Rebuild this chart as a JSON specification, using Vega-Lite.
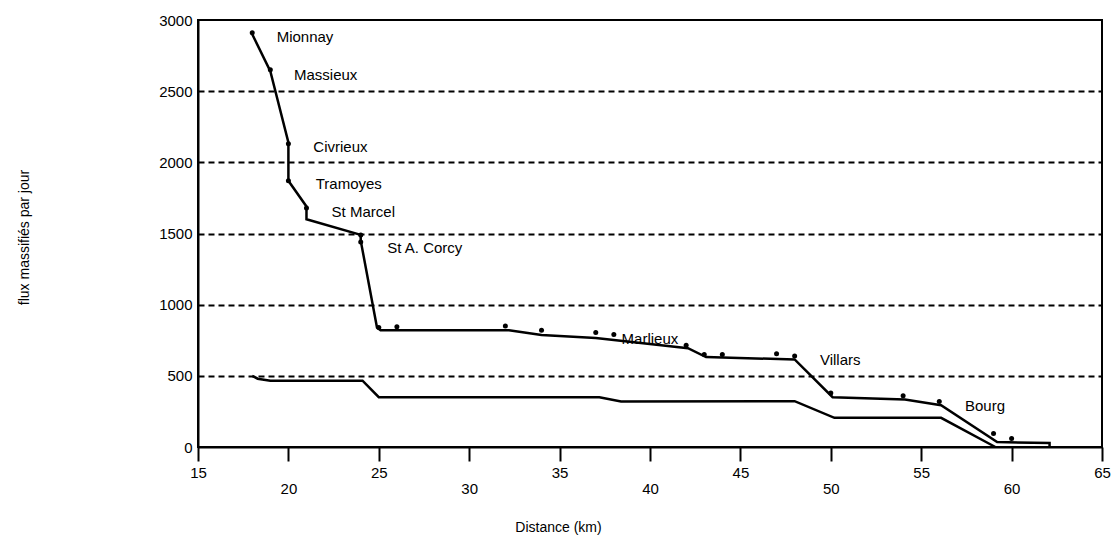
{
  "$schema": "https://vega.github.io/schema/vega-lite/v6.json",
  "autosize": {"type": "none"},
  "width": 904,
  "height": 427,
  "padding": {"left": 198, "top": 20, "right": 17, "bottom": 90},
  "background": "white",
  "config": {
    "view": {"stroke": "black", "strokeWidth": 2},
    "font": "Liberation Sans",
    "axis": {"labelColor": "black", "titleColor": "black", "labelFont": "Liberation Sans", "titleFont": "Liberation Sans"}
  },
  "datasets": {
    "lines": [
      {"series": "total", "seq": 1, "km": 18, "flux": 2900},
      {"series": "total", "seq": 2, "km": 19, "flux": 2640},
      {"series": "total", "seq": 3, "km": 20, "flux": 2140},
      {"series": "total", "seq": 4, "km": 20, "flux": 1870},
      {"series": "total", "seq": 5, "km": 21, "flux": 1690},
      {"series": "total", "seq": 6, "km": 21, "flux": 1600},
      {"series": "total", "seq": 7, "km": 24, "flux": 1490},
      {"series": "total", "seq": 8, "km": 24, "flux": 1450},
      {"series": "total", "seq": 9, "km": 24.9, "flux": 840},
      {"series": "total", "seq": 10, "km": 25.1, "flux": 820},
      {"series": "total", "seq": 11, "km": 32.2, "flux": 820},
      {"series": "total", "seq": 12, "km": 34, "flux": 787},
      {"series": "total", "seq": 13, "km": 37, "flux": 765},
      {"series": "total", "seq": 14, "km": 42.1, "flux": 694},
      {"series": "total", "seq": 15, "km": 43.1, "flux": 632},
      {"series": "total", "seq": 16, "km": 48, "flux": 615},
      {"series": "total", "seq": 17, "km": 50.1, "flux": 350},
      {"series": "total", "seq": 18, "km": 54.1, "flux": 333},
      {"series": "total", "seq": 19, "km": 56.1, "flux": 293},
      {"series": "total", "seq": 20, "km": 59.2, "flux": 35},
      {"series": "total", "seq": 21, "km": 62.1, "flux": 28},
      {"series": "total", "seq": 22, "km": 62.1, "flux": 0},
      {"series": "massifie", "seq": 1, "km": 18, "flux": 500},
      {"series": "massifie", "seq": 2, "km": 18.3, "flux": 480},
      {"series": "massifie", "seq": 3, "km": 19, "flux": 466},
      {"series": "massifie", "seq": 4, "km": 24.1, "flux": 466},
      {"series": "massifie", "seq": 5, "km": 25, "flux": 350},
      {"series": "massifie", "seq": 6, "km": 37.2, "flux": 350},
      {"series": "massifie", "seq": 7, "km": 38.4, "flux": 320},
      {"series": "massifie", "seq": 8, "km": 48, "flux": 322},
      {"series": "massifie", "seq": 9, "km": 50.2, "flux": 205},
      {"series": "massifie", "seq": 10, "km": 56.1, "flux": 205},
      {"series": "massifie", "seq": 11, "km": 59.1, "flux": 0}
    ],
    "marks": [
      {"km": 18, "flux": 2910},
      {"km": 19, "flux": 2650},
      {"km": 20, "flux": 2130},
      {"km": 20, "flux": 1870},
      {"km": 21, "flux": 1680},
      {"km": 24, "flux": 1490},
      {"km": 24, "flux": 1440},
      {"km": 25, "flux": 840},
      {"km": 26, "flux": 845},
      {"km": 32, "flux": 850},
      {"km": 34, "flux": 820},
      {"km": 37, "flux": 805},
      {"km": 38, "flux": 790},
      {"km": 42, "flux": 715},
      {"km": 43, "flux": 650},
      {"km": 44, "flux": 650},
      {"km": 47, "flux": 655},
      {"km": 48, "flux": 640},
      {"km": 50, "flux": 380},
      {"km": 54, "flux": 360},
      {"km": 56, "flux": 320},
      {"km": 59, "flux": 95},
      {"km": 60, "flux": 60}
    ],
    "towns": [
      {"name": "Mionnay", "km": 19.35, "flux": 2883},
      {"name": "Massieux", "km": 20.31, "flux": 2614},
      {"name": "Civrieux", "km": 21.38, "flux": 2110},
      {"name": "Tramoyes", "km": 21.51, "flux": 1846},
      {"name": "St Marcel", "km": 22.39, "flux": 1653},
      {"name": "St A. Corcy", "km": 25.47, "flux": 1400},
      {"name": "Marlieux", "km": 38.43, "flux": 757},
      {"name": "Villars", "km": 49.4, "flux": 611},
      {"name": "Bourg", "km": 57.42, "flux": 288}
    ]
  },
  "encoding": {
    "x": {
      "field": "km",
      "type": "quantitative",
      "scale": {"domain": [15, 65], "nice": false, "zero": false},
      "axis": {
        "title": "Distance (km)",
        "values": [15, 20, 25, 30, 35, 40, 45, 50, 55, 60, 65],
        "format": "d",
        "grid": false,
        "domainColor": "black",
        "domainWidth": 2,
        "tickColor": "black",
        "tickWidth": 2,
        "tickSize": 14,
        "labelFontSize": 15,
        "labelPadding": {"condition": {"test": "datum.value % 10 == 0", "value": 20}, "value": 4},
        "labelFlush": false,
        "labelOverlap": false,
        "titleFontSize": 14,
        "titleFontWeight": "normal",
        "titleX": 360,
        "titleY": 80,
        "titleAlign": "center",
        "titleBaseline": "middle"
      }
    },
    "y": {
      "field": "flux",
      "type": "quantitative",
      "scale": {"domain": [0, 3000], "nice": false},
      "axis": {
        "title": "flux massifiés par jour",
        "values": [0, 500, 1000, 1500, 2000, 2500, 3000],
        "format": "d",
        "ticks": false,
        "domainColor": "black",
        "domainWidth": 2,
        "labelFontSize": 15,
        "labelPadding": 6,
        "grid": true,
        "gridColor": "black",
        "gridDash": [6, 4],
        "gridWidth": 2,
        "gridOpacity": {"condition": {"test": "datum.value == 0 || datum.value == 3000", "value": 0}, "value": 1},
        "titleFontSize": 14,
        "titleFontWeight": "normal",
        "titleAngle": -90,
        "titleX": -174,
        "titleY": 217,
        "titleAlign": "center",
        "titleBaseline": "middle"
      }
    }
  },
  "layer": [
    {
      "data": {"name": "lines"},
      "mark": {"type": "line", "color": "black", "strokeWidth": 2.5},
      "encoding": {
        "detail": {"field": "series"},
        "order": {"field": "seq", "type": "quantitative"}
      }
    },
    {
      "data": {"name": "marks"},
      "mark": {"type": "point", "filled": true, "color": "black", "size": 25, "opacity": 1}
    },
    {
      "data": {"name": "towns"},
      "mark": {"type": "text", "align": "left", "baseline": "middle", "fontSize": 15, "color": "black", "font": "Liberation Sans"},
      "encoding": {"text": {"field": "name"}}
    }
  ]
}
